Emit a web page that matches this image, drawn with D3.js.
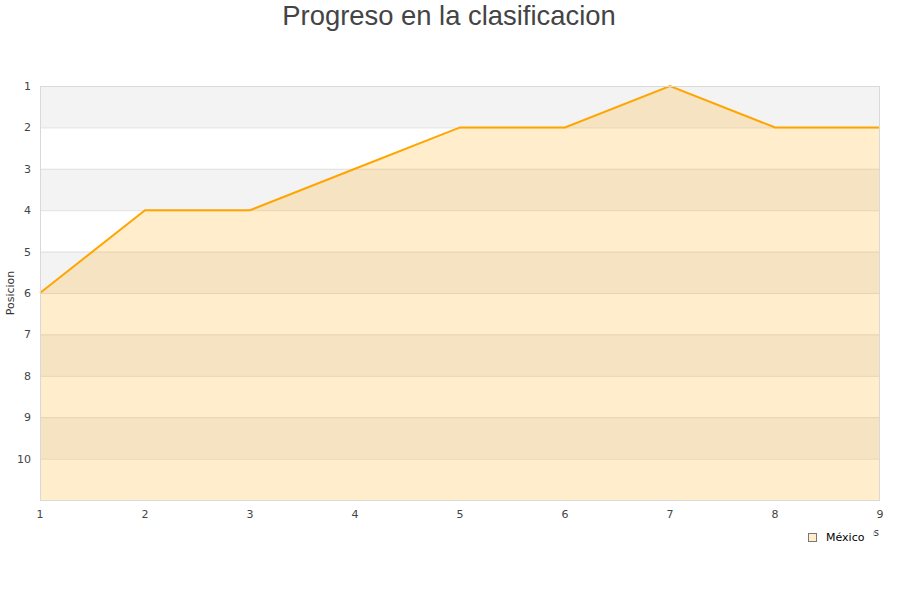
<!DOCTYPE html>
<html><head><meta charset="utf-8">
<script src="https://cdn.jsdelivr.net/npm/d3@7"></script>
<style>body{margin:0;background:#fff}</style>
</head><body>
<svg id="c" width="900" height="600"></svg>
<script>
const jornadas = [1,2,3,4,5,6,7,8,9];
const posiciones = [6,4,4,3,2,2,1,2,2];
const yTicks = [1,2,3,4,5,6,7,8,9,10];
const seriesName = "México";
const title = "Progreso en la clasificacion";

const svg = d3.select("#c");
const L=40,R=880,T=86,B=500;
const x = d3.scaleLinear().domain([1,9]).range([L,R]);
const y = d3.scaleLinear().domain([1,11]).range([T,B]);
const font = "DejaVu Sans, sans-serif";

// bands
svg.append("g").selectAll("rect").data(yTicks.filter(d=>d%2===1)).join("rect")
  .attr("x",L).attr("width",R-L).attr("y",d=>y(d)).attr("height",d=>y(d+1)-y(d))
  .attr("fill","#f3f3f3");
// gridlines
svg.append("g").selectAll("line").data(yTicks.slice(1)).join("line")
  .attr("x1",L).attr("x2",R).attr("y1",d=>y(d)+0.5).attr("y2",d=>y(d)+0.5)
  .attr("stroke","#e0e0e0").attr("stroke-width",1);

const data = jornadas.map((j,i)=>({j, p:posiciones[i]}));
svg.append("path").datum(data)
  .attr("d", d3.area().x(d=>x(d.j)).y0(B).y1(d=>y(d.p)))
  .attr("fill","#ffa500").attr("fill-opacity",0.2);
svg.append("path").datum(data)
  .attr("d", d3.line().x(d=>x(d.j)).y(d=>y(d.p)))
  .attr("fill","none").attr("stroke","#ffa500").attr("stroke-width",2);

// border
svg.append("rect").attr("x",L+0.5).attr("y",T+0.5).attr("width",R-L-1).attr("height",B-T)
  .attr("fill","none").attr("stroke","#d9d9d9");

// y ticks
svg.append("g").selectAll("text").data(yTicks).join("text")
  .attr("x",31).attr("y",d=>y(d)+4).attr("text-anchor","end")
  .attr("font-family",font).attr("font-size",11).attr("fill","#444").text(d=>d);
// x ticks
svg.append("g").selectAll("text").data(jornadas).join("text")
  .attr("x",d=>x(d)).attr("y",518).attr("text-anchor","middle")
  .attr("font-family",font).attr("font-size",11).attr("fill","#444").text(d=>d);

// title
svg.append("text").attr("x",449).attr("y",25).attr("text-anchor","middle")
  .attr("font-family","Liberation Sans, Arial, sans-serif").attr("font-size",27.4).attr("fill","#444").text(title);
// y title
svg.append("text").attr("transform","translate(14,293) rotate(-90)").attr("text-anchor","middle")
  .attr("font-family",font).attr("font-size",11).attr("fill","#333").text("Posicion");
// x title
svg.append("text").attr("x",879).attr("y",536).attr("text-anchor","end")
  .attr("font-family",font).attr("font-size",10).attr("fill","#333").text("Jornadas");

// legend
const lg = svg.append("g");
lg.append("rect").attr("x",800).attr("y",528).attr("width",73).attr("height",20).attr("fill","#fff");
lg.append("rect").attr("x",808.5).attr("y",533.5).attr("width",8).attr("height",8)
  .attr("fill","#ffedcc").attr("stroke","#777");
lg.append("text").attr("x",826).attr("y",541).attr("font-family",font).attr("font-size",11)
  .attr("fill","#000").text(seriesName);
</script>
</body></html>
